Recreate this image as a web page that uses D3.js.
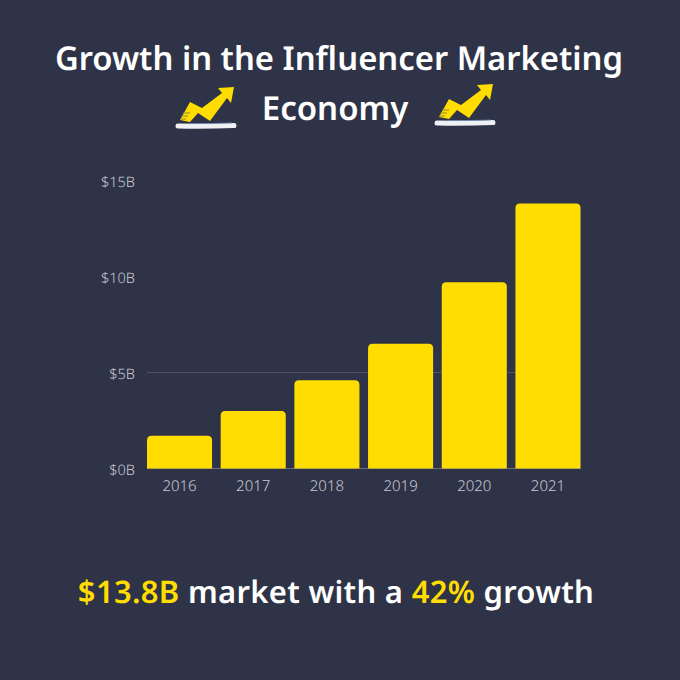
<!DOCTYPE html>
<html><head><meta charset="utf-8">
<script src="https://cdn.jsdelivr.net/npm/d3@7"></script>
<style>
html,body{margin:0;padding:0;background:#2e3347}
text{font-family:"Noto Sans",sans-serif;text-rendering:geometricPrecision}
</style></head><body>
<svg id="c" width="680" height="680"></svg>
<script>
const years=["2016","2017","2018","2019","2020","2021"];
const marketSize=[1.7,3.0,4.6,6.5,9.7,13.8];
const yTicks=[0,5,10,15];
const gridTicks=[0,5];

const svg=d3.select("#c");
svg.append("rect").attr("width",680).attr("height",680).attr("fill","#2e3347");

const x=d3.scaleBand().domain(years).range([147,580.5]).paddingInner(0.117).paddingOuter(0);
const y=d3.scaleLinear().domain([0,15]).range([468.5,180.5]);

svg.append("g").selectAll("line").data(gridTicks).join("line")
 .attr("x1",147).attr("x2",580.5).attr("y1",d=>y(d)).attr("y2",d=>y(d))
 .attr("stroke",d=>d===0?"#6a6e80":"#4d5266").attr("stroke-width",1);

const r=4.5;
svg.append("g").selectAll("path").data(years).join("path")
 .attr("fill","#ffdd00")
 .attr("d",(d,i)=>{
   const a=x(d),b=a+x.bandwidth(),t=y(marketSize[i]),o=y(0);
   return `M${a},${o}V${t+r}Q${a},${t} ${a+r},${t}H${b-r}Q${b},${t} ${b},${t+r}V${o}Z`;
 });

const yAxis=d3.axisLeft(y).tickValues(yTicks).tickSize(0).tickPadding(12).tickFormat(d=>`$${d}B`);
const gy=svg.append("g").attr("transform","translate(147,1)").call(yAxis);
gy.select(".domain").remove();
gy.selectAll("text").attr("fill","#c8cad3").attr("font-size",14.5).attr("font-weight",300);

const xAxis=d3.axisBottom(x).tickSize(0).tickPadding(12);
const gx=svg.append("g").attr("transform","translate(0,468.5)").call(xAxis);
gx.select(".domain").remove();
gx.selectAll("text").attr("fill","#c8cad3").attr("font-size",15).attr("font-weight",300);

const title=(t,xp,yp,fs)=>svg.append("text").attr("x",xp).attr("y",yp).attr("text-anchor","middle")
 .attr("fill","#fff").attr("font-weight",600).attr("font-size",fs).text(t);
title("Growth in the Influencer Marketing",339,70,32.8);
title("Economy",335,120,33);

const foot=svg.append("text").attr("x",336).attr("y",603).attr("text-anchor","middle")
 .attr("font-weight",600).attr("font-size",31).attr("letter-spacing",0.3).attr("fill","#fff");
foot.append("tspan").attr("fill","#ffdd00").text("$13.8B");
foot.append("tspan").text(" market with a ");
foot.append("tspan").attr("fill","#ffdd00").text("42%");
foot.append("tspan").text(" growth");

function icon(tx,ty){
  const g=svg.append("g").attr("transform",`translate(${tx},${ty})`);
  g.append("path").attr("fill","#ffdd00")
   .attr("d","M4,35 L14,17 L26,23 L46,8 L42,3 L58,2 L55,18 L51,13 L34,36 L22,28 L14,37 Z");
  g.append("path").attr("fill","none").attr("stroke","#8f8a35").attr("stroke-width",1)
   .attr("d","M7,28H14M5.5,31H12M4.5,34H10");
  g.append("path").attr("fill","none").attr("stroke","#eef0f4").attr("stroke-width",5).attr("stroke-linecap","round")
   .attr("d","M2,41 Q30,41.5 58,40.5");
  g.append("path").attr("fill","none").attr("stroke","#6f8fb8").attr("stroke-width",0.8)
   .attr("d","M14,38.5 Q36,38.8 56,38");
}
icon(176,85);
icon(435,82);
</script>
</body></html>
